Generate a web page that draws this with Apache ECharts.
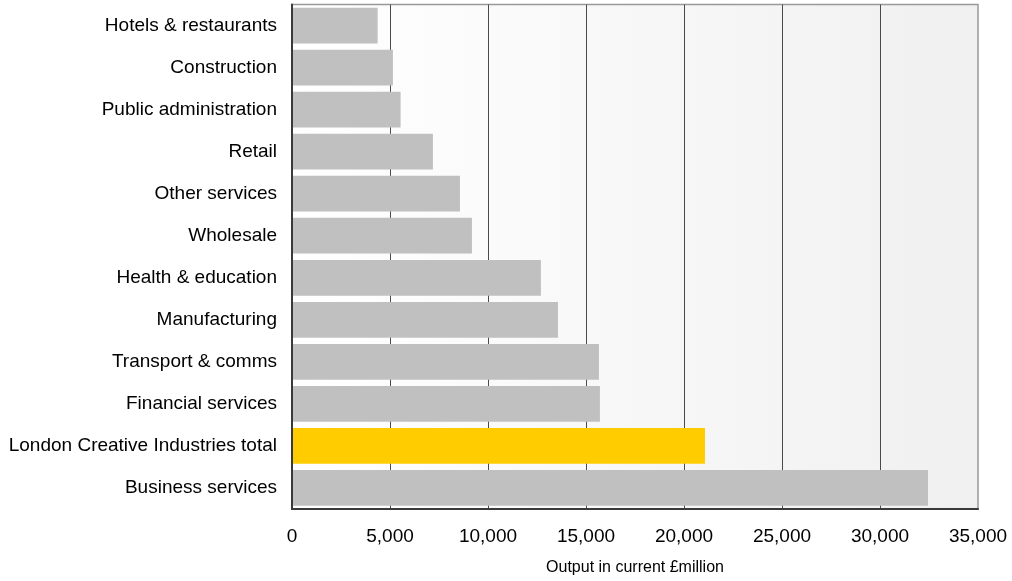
<!DOCTYPE html>
<html>
<head>
<meta charset="utf-8">
<title>Output by sector, London</title>
<script src="https://cdn.jsdelivr.net/npm/echarts@6/dist/echarts.min.js"></script>
<style>
  html, body { margin: 0; padding: 0; background: #ffffff; }
  #chart { width: 1012px; height: 581px; }
</style>
</head>
<body>
<div id="chart"></div>
<script>
// Sectors, top to bottom
const categories = [
  'Hotels & restaurants',
  'Construction',
  'Public administration',
  'Retail',
  'Other services',
  'Wholesale',
  'Health & education',
  'Manufacturing',
  'Transport & comms',
  'Financial services',
  'London Creative Industries total',
  'Business services'
];

// Output in current £million
const outputValues = [4370, 5150, 5540, 7190, 8570, 9180, 12700, 13570, 15660, 15710, 21070, 32450];

// Sector drawn in the highlight colour
const highlightCategory = 'London Creative Industries total';

const axisTitle = 'Output in current £million';

const FONT = '"Liberation Sans", Arial, sans-serif';
const BAR_GREY = '#c0c0c0';
const BAR_HIGHLIGHT = '#ffcc00';

const seriesData = categories.map((name, i) => ({
  value: outputValues[i],
  itemStyle: { color: name === highlightCategory ? BAR_HIGHLIGHT : BAR_GREY }
}));

const fmt = v => String(v).replace(/\B(?=(\d{3})+(?!\d))/g, ',');

const chart = echarts.init(document.getElementById('chart'), null, { renderer: 'canvas' });

chart.setOption({
  animation: false,
  backgroundColor: '#ffffff',
  grid: {
    left: 292,
    right: 34,
    top: 4.5,
    bottom: 69,
    containLabel: false,
    show: true,
    borderColor: '#999999',
    borderWidth: 1.5,
    backgroundColor: {
      type: 'linear', x: 0, y: 0, x2: 1, y2: 0,
      colorStops: [
        { offset: 0, color: '#ffffff' },
        { offset: 1, color: '#f0f0f0' }
      ]
    }
  },
  // value axis stays behind the bars so its grid lines are covered
  xAxis: {
    type: 'value',
    z: 0,
    min: 0,
    max: 35000,
    interval: 5000,
    name: axisTitle,
    nameLocation: 'middle',
    nameGap: 51,
    nameTextStyle: { fontFamily: FONT, fontSize: 16, color: '#000000' },
    axisLine: { show: true, lineStyle: { color: '#3a3a3a', width: 2 } },
    axisTick: { show: false },
    axisLabel: {
      margin: 18,
      fontFamily: FONT,
      fontSize: 19,
      color: '#000000',
      formatter: fmt
    },
    splitLine: {
      show: true,
      showMinLine: false,
      showMaxLine: false,
      lineStyle: { color: '#4a4a4a', width: 1 }
    }
  },
  // category axis line sits on top of the bars' left edges
  yAxis: {
    type: 'category',
    z: 5,
    data: categories,
    inverse: true,
    axisLine: { show: true, lineStyle: { color: '#3a3a3a', width: 2 } },
    axisTick: { show: false },
    axisLabel: {
      margin: 15,
      fontFamily: FONT,
      fontSize: 19,
      color: '#000000'
    },
    splitLine: { show: false }
  },
  series: [{
    type: 'bar',
    z: 2,
    data: seriesData,
    barCategoryGap: '15%',
    silent: true
  }]
});
</script>
</body>
</html>
